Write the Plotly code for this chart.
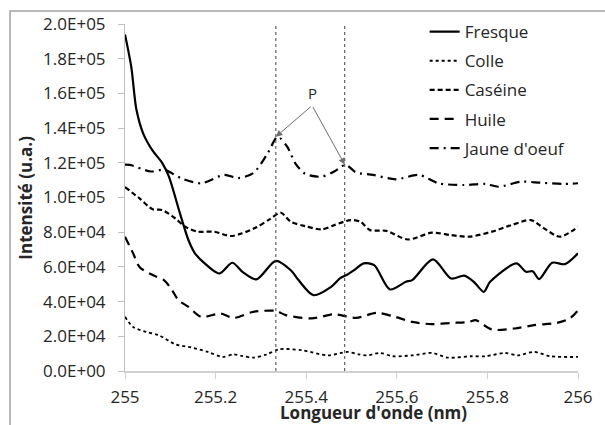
import plotly.graph_objects as go

# ---------------- data ----------------
fresque_x = [255.000, 255.014, 255.025, 255.040, 255.061, 255.082, 255.097, 255.120, 255.140, 255.154,
             255.176, 255.208, 255.237, 255.260, 255.290, 255.333, 255.366, 255.383, 255.416, 255.455,
             255.475, 255.490, 255.505, 255.527, 255.550, 255.585, 255.620, 255.634, 255.680, 255.720,
             255.749, 255.770, 255.792, 255.806, 255.864, 255.885, 255.900, 255.914, 255.943, 255.971,
             256.000]
fresque_y = [194000, 175000, 151000, 137000, 127000, 120000, 112000, 92000, 75500, 68000,
             62000, 56200, 62400, 57000, 52800, 63500, 58100, 52400, 43700, 48500,
             53500, 55500, 58000, 62000, 61000, 47000, 51400, 52400, 64300, 53300,
             55000, 51400, 45600, 51400, 62000, 57200, 57500, 53000, 62400, 61600,
             67800]

colle_x = [255.000, 255.018, 255.047, 255.075, 255.111, 255.147, 255.183, 255.215, 255.240, 255.258,
           255.283, 255.312, 255.340, 255.390, 255.448, 255.491, 255.516, 255.534, 255.563, 255.591,
           255.634, 255.677, 255.713, 255.763, 255.796, 255.839, 255.867, 255.903, 255.939, 256.000]
colle_y = [31200, 25400, 22500, 20600, 15400, 13500, 11000, 8100, 9600, 8700,
           7700, 9500, 12500, 12000, 9000, 11000, 9600, 9000, 10400, 8500,
           9000, 10400, 7700, 8500, 8500, 10400, 9000, 11000, 8500, 8100]

caseine_x = [255.000, 255.032, 255.061, 255.082, 255.111, 255.133, 255.161, 255.197, 255.233, 255.258,
             255.290, 255.319, 255.344, 255.366, 255.398, 255.434, 255.462, 255.498, 255.520, 255.541,
             255.577, 255.624, 255.677, 255.720, 255.760, 255.810, 255.853, 255.896, 255.925, 255.960,
             256.000]
caseine_y = [106000, 99500, 93200, 92800, 88000, 83100, 80300, 80300, 77800, 79300,
             82800, 87400, 91200, 86000, 83500, 81600, 84100, 87000, 86000, 81200,
             80800, 75800, 79700, 78300, 77400, 80300, 84100, 87000, 82200, 77400,
             83100]

huile_x = [255.000, 255.018, 255.032, 255.061, 255.086, 255.104, 255.118, 255.140, 255.168, 255.211,
           255.240, 255.283, 255.333, 255.355, 255.412, 255.462, 255.510, 255.555, 255.591, 255.634,
           255.677, 255.720, 255.760, 255.774, 255.810, 255.860, 255.903, 255.953, 255.982, 256.000]
huile_y = [77400, 67800, 60000, 55300, 52400, 46600, 40800, 37000, 31200, 33100,
           30600, 34100, 34600, 32200, 30300, 32700, 30600, 33500, 31600, 28300,
           27000, 27700, 28300, 29300, 23900, 24500, 26400, 27700, 30300, 35000]

jaune_x = [255.000, 255.011, 255.057, 255.086, 255.125, 255.168, 255.219, 255.250, 255.283, 255.315,
           255.337, 255.358, 255.376, 255.398, 255.434, 255.462, 255.487, 255.510, 255.548, 255.598,
           255.649, 255.692, 255.749, 255.796, 255.824, 255.875, 255.918, 255.968, 256.000]
jaune_y = [119000, 118800, 115000, 116000, 111000, 108200, 113000, 111200, 114000, 125500,
           135000, 129300, 119700, 113600, 112000, 115000, 118800, 114500, 113000, 110500,
           113000, 108200, 107200, 107800, 106200, 109100, 108500, 107800, 108200]

series_names = ["Fresque", "Colle", "Caséine", "Huile", "Jaune d'oeuf"]

peak_positions = [255.333, 255.485]
peak_heights = [135000, 119000]
peak_label = "P"
peak_label_pos = (255.413, 153000)

y_tickvals = [0, 20000, 40000, 60000, 80000, 100000, 120000, 140000, 160000, 180000, 200000]
y_ticktext = ["0.0E+00", "2.0E+04", "4.0E+04", "6.0E+04", "8.0E+04", "1.0E+05",
              "1.2E+05", "1.4E+05", "1.6E+05", "1.8E+05", "2.0E+05"]
x_tickvals = [255, 255.2, 255.4, 255.6, 255.8, 256]
x_ticktext = ["255", "255.2", "255.4", "255.6", "255.8", "256"]

x_title = "Longueur d'onde (nm)"
y_title = "Intensité (u.a.)"

# ---------------- figure ----------------
FONT = "Open Sans"
TXT = "#262626"
W, H = 605, 425
L, R, T, B = 125, 15, 24, 54
PW, PH = W - L - R, H - T - B


def px(xp):
    return (xp - L) / PW


def py(yp):
    return (H - B - yp) / PH


styles = [
    dict(width=2.2, dash="solid"),
    dict(width=1.8, dash="dot"),
    dict(width=2.2, dash="5px,3px"),
    dict(width=2.2, dash="9px,6px"),
    dict(width=2.2, dash="9px,5px,2px,5px"),
]
xs = [fresque_x, colle_x, caseine_x, huile_x, jaune_x]
ys = [fresque_y, colle_y, caseine_y, huile_y, jaune_y]

fig = go.Figure()
for i, (name, x, y, st) in enumerate(zip(series_names, xs, ys, styles)):
    fig.add_trace(go.Scatter(
        x=x, y=y, mode="lines", name=name, legendgroup=f"g{i}",
        line=dict(color="black", width=st["width"], dash=st["dash"], shape="spline", smoothing=0.8),
    ))

# vertical dotted marker lines
for xp in peak_positions:
    fig.add_shape(type="line", xref="x", yref="y", x0=xp, x1=xp, y0=0, y1=200000,
                  line=dict(color="#404040", width=1, dash="dot"))

# arrows from label to peaks
for xp, yp in zip(peak_positions, peak_heights):
    fig.add_annotation(x=xp, y=yp, ax=peak_label_pos[0], ay=peak_label_pos[1],
                       xref="x", yref="y", axref="x", ayref="y", text="",
                       showarrow=True, arrowhead=2, arrowsize=1.3, arrowwidth=1,
                       arrowcolor="#6e6e6e")
fig.add_annotation(x=peak_label_pos[0], y=peak_label_pos[1], xref="x", yref="y",
                   text=peak_label, showarrow=False, yanchor="bottom", yshift=1,
                   font=dict(family=FONT, size=15, color=TXT))

# axis titles as annotations
fig.add_annotation(x=px(380), y=py(413), xref="paper", yref="paper",
                   xanchor="center", yanchor="middle",
                   text=f"<b>{x_title}</b>", showarrow=False,
                   font=dict(family=FONT, size=17, color=TXT))
fig.add_annotation(x=px(22.5), y=0.5, xref="paper", yref="paper",
                   xanchor="center", yanchor="middle",
                   text=f"<b>{y_title}</b>", showarrow=False, textangle=-90,
                   font=dict(family=FONT, size=17, color=TXT))

# chart border (only the left and top edges are visible in the reference)
fig.add_shape(type="rect", xref="paper", yref="paper", layer="above",
              x0=px(7), x1=px(700), y0=py(11), y1=py(500),
              line=dict(color="#a3a3a3", width=1.5), fillcolor="rgba(0,0,0,0)")

fig.update_layout(
    width=W, height=H,
    margin=dict(l=L, r=R, t=T, b=B),
    paper_bgcolor="white", plot_bgcolor="white",
    font=dict(family=FONT, size=17, color=TXT),
    showlegend=True,
    legend=dict(x=0.6615, y=1.0286, xanchor="left", yanchor="top",
                bgcolor="rgba(0,0,0,0)", font=dict(family=FONT, size=17, color=TXT),
                traceorder="grouped", tracegroupgap=4),
    xaxis=dict(range=[255, 256], tickvals=x_tickvals, ticktext=x_ticktext,
               showgrid=False, zeroline=False, showline=True, linecolor="#d0d0d0", linewidth=2,
               ticks="outside", ticklen=6, tickcolor="#d0d0d0", tickwidth=1,
               ticklabelstandoff=4,
               tickfont=dict(family=FONT, size=17, color=TXT)),
    yaxis=dict(range=[0, 200000], tickvals=y_tickvals, ticktext=y_ticktext,
               showgrid=False, zeroline=False, showline=True, linecolor="#bfbfbf", linewidth=1,
               ticks="outside", ticklen=6, tickcolor="#bfbfbf", tickwidth=1,
               ticklabelstandoff=9,
               tickfont=dict(family=FONT, size=17, color=TXT)),
)

fig.write_html("out.html", config={"displayModeBar": False},
               post_script="document.body.style.margin='0';")
